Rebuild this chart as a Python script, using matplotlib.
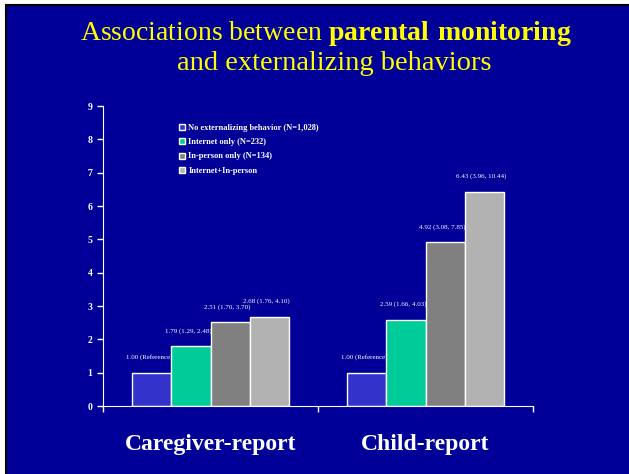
import matplotlib.pyplot as plt
import matplotlib.patches as mpatches
import numpy as np

plt.rcParams.update({
    'font.family': ['Liberation Serif', 'DejaVu Serif'],
    'mathtext.fontset': 'custom',
    'mathtext.rm': 'Liberation Serif',
    'mathtext.bf': 'Liberation Serif:bold',
    'figure.dpi': 100,
})

# Daten
kategorien = ['Caregiver-report', 'Child-report']
gruppen = ['No externalizing behavior (N=1,028)', 'Internet only (N=232)',
           'In-person only (N=134)', 'Internet+In-person']
werte = [
    [1.00, 1.00],
    [1.79, 2.59],
    [2.51, 4.92],
    [2.68, 6.43],
]
beschriftungen = [
    ['1.00 (Reference)', '1.00 (Reference)'],
    ['1.79 (1.29, 2.48)', '2.59 (1.66, 4.03)'],
    ['2.51 (1.70, 3.70)', '4.92 (3.08, 7.85)'],
    ['2.68 (1.76, 4.10)', '6.43 (3.96, 10.44)'],
]
farben = ['#3333CC', '#00CC99', '#808080', '#B2B2B2']
y_ticks = list(range(0, 10))

BG = '#000099'

fig = plt.figure(figsize=(6.29, 4.74))
fig.patch.set_facecolor('white')

# Folienhintergrund mit schwarzem Rand (nur links/oben sichtbar)
slide = mpatches.Rectangle((6 / 629, -0.05), 1.1, 1.05 - 5 / 474,
                           transform=fig.transFigure, facecolor=BG,
                           edgecolor='black', linewidth=1.5, zorder=-10)
fig.patches.append(slide)

# Titel
fig.text(326 / 629, 1 - 33 / 474, 'Associations between $\\bf{parental\\ monitoring}$',
         ha='center', va='center', fontsize=20, color='#FFFF00')
fig.text(334 / 629, 1 - 64 / 474, 'and externalizing behaviors',
         ha='center', va='center', fontsize=20.5, color='#FFFF00')

ax = fig.add_axes([103 / 629, 68 / 474, 430 / 629, 300 / 474])
ax.set_facecolor('none')
ax.set_zorder(5)

x = np.array([0.5, 1.5])
breite = 0.182
for i, (g, w) in enumerate(zip(gruppen, werte)):
    pos = x + (i - 1.5) * breite
    bars = ax.bar(pos, w, width=breite, color=farben[i], edgecolor='white',
                  linewidth=1, label=g, zorder=2)
    for b, txt in zip(bars, beschriftungen[i]):
        ax.annotate(txt, (b.get_x() + b.get_width() / 2, b.get_height()),
                    xytext=(-2, 11), textcoords='offset points',
                    ha='center', va='center', fontsize=5, color='white')

ax.set_xlim(0, 2)
ax.set_ylim(0, 9)
ax.set_yticks(y_ticks)
ax.set_yticklabels([str(t) for t in y_ticks], fontsize=7, fontweight='bold',
                   color='white')
ax.set_xticks([0, 1, 2])
ax.set_xticklabels([])
ax.set_xticks(x, minor=True)
ax.set_xticklabels(kategorien, minor=True, fontsize=17, fontweight='bold',
                   color='white')
ax.tick_params(axis='x', which='minor', length=0, pad=20)
ax.tick_params(axis='both', which='major', colors='white', length=4,
               direction='out', width=1)
for s in ['top', 'right']:
    ax.spines[s].set_visible(False)
for s in ['left', 'bottom']:
    ax.spines[s].set_color('white')

leg = ax.legend(loc='upper left', bbox_to_anchor=(0.16, 0.965), frameon=False,
                prop={'size': 6, 'weight': 'bold'}, labelspacing=0.75,
                handlelength=0.7, handleheight=0.7, handletextpad=0.4)
for t in leg.get_texts():
    t.set_color('white')

fig.savefig('out.png', dpi=100, facecolor=fig.get_facecolor())
